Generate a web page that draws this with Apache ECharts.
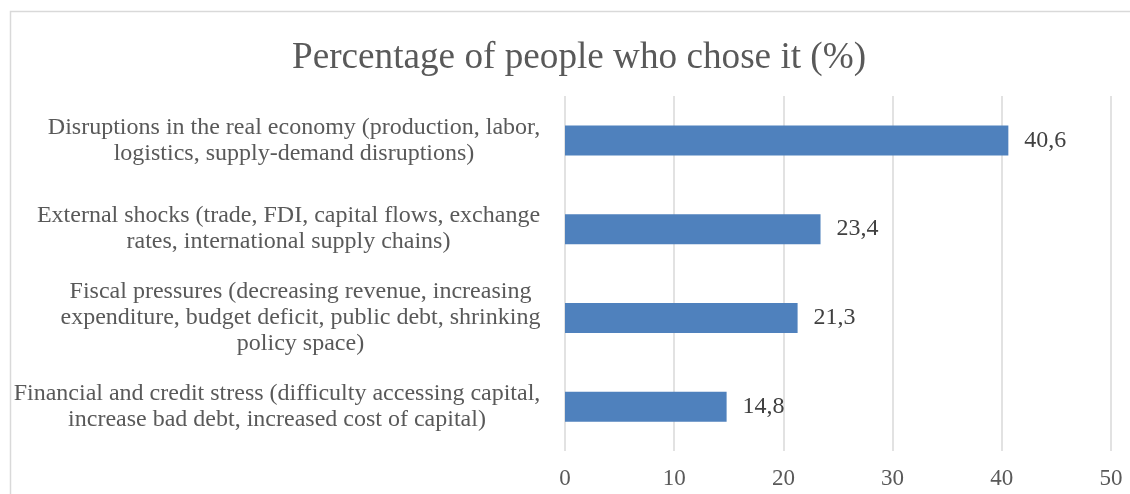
<!DOCTYPE html>
<html>
<head>
<meta charset="utf-8">
<script src="https://cdn.jsdelivr.net/npm/echarts@6/dist/echarts.min.js"></script>
<style>
html,body{margin:0;padding:0;background:#fff;}
#chart{width:1130px;height:494px;}
</style>
</head>
<body>
<div id="chart"></div>
<script>
const categories = [
  "Disruptions in the real economy (production, labor,\nlogistics, supply-demand disruptions)",
  "External shocks (trade, FDI, capital flows, exchange\nrates, international supply chains)",
  "Fiscal pressures (decreasing revenue, increasing\nexpenditure, budget deficit, public debt, shrinking\npolicy space)",
  "Financial and credit stress (difficulty accessing capital,\nincrease bad debt, increased cost of capital)"
];
const values = [40.6, 23.4, 21.3, 14.8];
const titleText = "Percentage of people who chose it (%)";

const serif = "'Liberation Serif', 'Times New Roman', serif";
const labelSize = 24;
const labelLine = 26;

// measure each label block so lines are centred within a right-aligned block
const ctx = document.createElement('canvas').getContext('2d');
ctx.font = labelSize + "px 'Liberation Serif'";
const rich = {};
categories.forEach(function (c, i) {
  let w = 0;
  c.split('\n').forEach(function (l) { w = Math.max(w, ctx.measureText(l).width); });
  rich['w' + i] = { width: Math.ceil(w) + 1, align: 'center', fontFamily: serif, fontSize: labelSize, color: '#595959', lineHeight: labelLine };
});

const chart = echarts.init(document.getElementById('chart'));
chart.setOption({
  animation: false,
  backgroundColor: '#ffffff',
  title: {
    text: titleText,
    left: 287,
    top: 35,
    textStyle: { fontFamily: serif, fontSize: 37.2, fontWeight: 'normal', color: '#595959' }
  },
  graphic: [{
    type: 'rect',
    shape: { x: 10.5, y: 11.5, width: 1300, height: 700 },
    style: { fill: 'none', stroke: '#d9d9d9', lineWidth: 1.5 },
    silent: true
  }],
  grid: { left: 565, right: 19, top: 96, bottom: 43 },
  xAxis: {
    type: 'value',
    min: 0, max: 50, interval: 10,
    axisLine: { show: false },
    axisTick: { show: false },
    splitLine: { show: true, lineStyle: { color: '#d9d9d9', width: 1.5 } },
    axisLabel: { fontFamily: serif, fontSize: 23, color: '#595959', margin: 16 }
  },
  yAxis: {
    type: 'category',
    inverse: true,
    data: categories,
    axisLine: { show: false },
    axisTick: { show: false },
    axisLabel: {
      align: 'right',
      margin: 24,
      fontFamily: serif, fontSize: labelSize, color: '#595959', lineHeight: labelLine,
      rich: rich,
      formatter: function (v) {
        const i = categories.indexOf(v);
        return v.split('\n').map(function (l) { return '{w' + i + '|' + l + '}'; }).join('\n');
      }
    }
  },
  series: [{
    type: 'bar',
    data: values,
    barWidth: 30,
    itemStyle: { color: '#4f81bd' },
    label: {
      show: true,
      position: 'right',
      distance: 16,
      fontFamily: serif, fontSize: 24, color: '#404040',
      formatter: function (p) { return p.value.toFixed(1).replace('.', ','); }
    }
  }]
});
</script>
</body>
</html>
